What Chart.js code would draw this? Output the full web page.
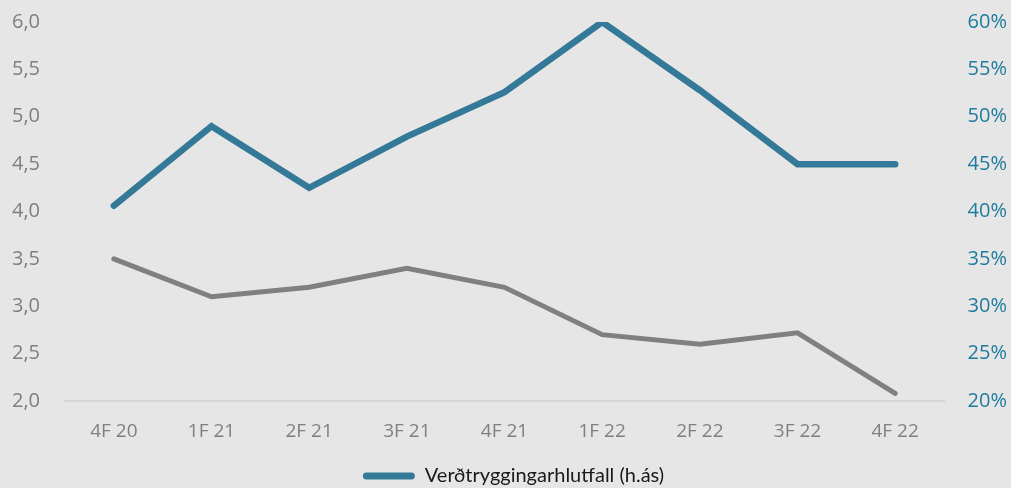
<!DOCTYPE html>
<html>
<head>
<meta charset="utf-8">
<script src="https://cdn.jsdelivr.net/npm/chart.js@4/dist/chart.umd.min.js"></script>
<style>
  html, body { margin: 0; padding: 0; background: #e6e6e6; }
  #wrap { width: 1011px; height: 488px; position: relative; }
  canvas { display: block; }
</style>
</head>
<body>
<div id="wrap"><canvas id="c" width="1011" height="488"></canvas></div>
<script>
const categories = ["4F 20", "1F 21", "2F 21", "3F 21", "4F 21", "1F 22", "2F 22", "3F 22", "4F 22"];
const grayLabel = "Vinstri ás";
const grayValues = [3.5, 3.1, 3.2, 3.4, 3.2, 2.7, 2.6, 2.72, 2.08];
const blueLabel = "Verðtryggingarhlutfall (h.ás)";
const blueValues = [40.6, 49.0, 42.5, 47.9, 52.6, 60.0, 52.8, 45.0, 45.0];
const leftTicks = [2.0, 2.5, 3.0, 3.5, 4.0, 4.5, 5.0, 5.5, 6.0];
const rightTicks = [20, 25, 30, 35, 40, 45, 50, 55, 60];

const BLUE = '#347a98';
const GRAY = '#808080';
const TICKFONT = "'Open Sans', sans-serif";

const legendShift = {
  id: 'legendShift',
  afterLayout(chart) {
    const lg = chart.legend;
    if (lg) { lg.left += 4; lg.right += 4; }
  }
};

new Chart(document.getElementById('c'), {
  type: 'line',
  plugins: [legendShift],
  data: {
    labels: categories,
    datasets: [
      {
        label: grayLabel,
        data: grayValues,
        yAxisID: 'y',
        borderColor: GRAY,
        backgroundColor: GRAY,
        borderWidth: 5,
        pointRadius: 0,
        tension: 0,
        borderCapStyle: 'round',
        borderJoinStyle: 'miter'
      },
      {
        label: blueLabel,
        data: blueValues,
        yAxisID: 'y1',
        borderColor: BLUE,
        backgroundColor: BLUE,
        borderWidth: 6.5,
        pointRadius: 0,
        tension: 0,
        borderCapStyle: 'round',
        borderJoinStyle: 'miter'
      }
    ]
  },
  options: {
    responsive: false,
    animation: false,
    layout: { padding: { top: 22, bottom: -8, left: 12, right: 4 } },
    plugins: {
      tooltip: { enabled: false },
      legend: {
        position: 'bottom',
        labels: {
          font: { family: 'Lato', size: 20 },
          color: '#1a1a1a',
          boxWidth: 52,
          boxHeight: 7,
          padding: 10,
          useBorderRadius: true,
          borderRadius: 3.5,
          filter: (item) => item.datasetIndex === 1,
          generateLabels: (chart) => chart.data.datasets.map((ds, i) => ({
            text: ds.label,
            fillStyle: ds.borderColor,
            strokeStyle: ds.borderColor,
            lineWidth: 0,
            hidden: false,
            datasetIndex: i,
            borderRadius: 3.5,
            fontColor: '#1a1a1a'
          }))
        }
      }
    },
    scales: {
      x: {
        offset: true,
        grid: { display: false, drawTicks: false },
        border: { display: true, color: '#d6d6d6', width: 2 },
        ticks: {
          font: { family: TICKFONT, size: 19 },
          color: '#808080',
          padding: 19,
          maxRotation: 0
        },
        afterFit: (s) => { s.height = 55; }
      },
      y: {
        position: 'left',
        min: 2, max: 6,
        afterBuildTicks: (s) => { s.ticks = leftTicks.map(v => ({ value: v })); },
        grid: { display: false, drawTicks: false },
        border: { display: false },
        ticks: {
          font: { family: TICKFONT, size: 20 },
          color: '#7f7f7f',
          padding: 0,
          crossAlign: 'far',
          callback: (v) => v.toFixed(1).replace('.', ',')
        },
        afterFit: (s) => { s.width = 53; }
      },
      y1: {
        position: 'right',
        min: 20, max: 60,
        afterBuildTicks: (s) => { s.ticks = rightTicks.map(v => ({ value: v })); },
        grid: { display: false, drawTicks: false },
        border: { display: false },
        ticks: {
          font: { family: TICKFONT, size: 20 },
          color: '#1f7c9e',
          padding: 0,
          crossAlign: 'far',
          callback: (v) => v + '%'
        },
        afterFit: (s) => { s.width = 63; }
      }
    }
  }
});
</script>
</body>
</html>
